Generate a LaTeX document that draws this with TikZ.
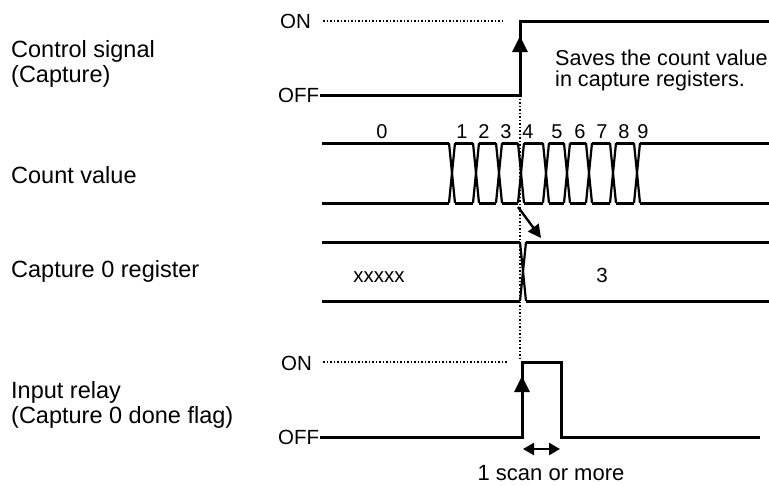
\documentclass[tikz,border=0pt]{standalone}
\usepackage{fontspec}
\setmainfont{Liberation Sans}
\usetikzlibrary{arrows.meta}
\begin{document}
\begin{tikzpicture}[x=1pt,y=-1pt,
  wave/.style={line width=3pt, line join=miter},
  xing/.style={line width=2.2pt},
  dots/.style={line width=1.7pt, dash pattern=on 1.5pt off 2pt},
  lbl/.style={font=\fontsize{23.5}{27}\selectfont, inner sep=0pt, anchor=base west},
  lvl/.style={font=\fontsize{20.5}{24}\selectfont, inner sep=0pt, anchor=base west},
  num/.style={font=\fontsize{20}{24}\selectfont, inner sep=0pt, anchor=base},
  reg/.style={font=\fontsize{20.5}{24}\selectfont, inner sep=0pt, anchor=base},
  note/.style={font=\fontsize{21.6}{25}\selectfont, inner sep=0pt, anchor=base west},
  arr/.style={line width=3pt, -{Triangle[length=16pt,width=15pt]}},
  smallarr/.style={line width=2.4pt, -{Triangle[length=13pt,width=13pt]}},
  dblarr/.style={line width=2.4pt, {Triangle[length=11pt,width=12pt]}-{Triangle[length=11pt,width=12pt]}}
]
\useasboundingbox (0,0) rectangle (769,485);

% left labels
\node[lbl] (l1a) at (11,57) {Control signal};
\node[lbl] (l1b) at (11,82) {(Capture)};
\node[lbl] (l2) at (11,183) {Count value};
\node[lbl] (l3) at (11,277) {Capture 0 register};
\node[lbl] (l4a) at (11,398) {Input relay};
\node[lbl] (l4b) at (11,423) {(Capture 0 done flag)};

% control signal
\node[lvl] (on1) at (280,28) {ON};
\node[lvl] (off1) at (278,102) {OFF};
\coordinate (c0) at (320,95);
\coordinate (c1) at (520,95);
\coordinate (c2) at (520,21);
\coordinate (c3) at (769,21);
\coordinate (d1a) at (323,21);
\coordinate (d1b) at (503,21);
\draw[dots] (d1a) -- (d1b);
\draw[wave] (c0) -- (c1) -- (c2) -- (c3);
\coordinate (a1) at (520,36);
\draw[arr] (c1) -- (a1);
\node[note] (n1) at (555,65) {Saves the count value};
\node[note] (n2) at (555,86) {in capture registers.};

% vertical dotted guide
\coordinate (g2) at (520,358);
\draw[dots] (c1) -- (g2);

% count value bus
\def\ct{143}\def\cb{203}\def\hw{3}
\draw[wave] (322,\ct) -- (452-\hw,\ct);
\draw[wave] (322,\cb) -- (452-\hw,\cb);
\foreach \a/\b in {452/476,476/499,499/521,521/546,546/567,567/589,589/613,613/637}{
  \draw[wave] (\a+\hw,\ct) -- (\b-\hw,\ct);
  \draw[wave] (\a+\hw,\cb) -- (\b-\hw,\cb);
}
\draw[wave] (637+\hw,\ct) -- (769,\ct);
\draw[wave] (637+\hw,\cb) -- (769,\cb);
\foreach \c in {452,476,499,521,546,567,589,613,637}{
  \draw[xing] (\c-\hw,\ct) -- (\c+\hw,\cb);
  \draw[xing] (\c+\hw,\ct) -- (\c-\hw,\cb);
}
\foreach \x/\t in {382/0,462/1,484/2,506/3,528/4,557/5,580/6,602/7,624/8,643/9}{
  \node[num] (k\t) at (\x,138) {\t};
}
\coordinate (da) at (518,207);
\coordinate (db) at (541,238);
\draw[smallarr] (da) -- (db);

% capture register
\def\rt{242}\def\rb{301}
\draw[wave] (322,\rt) -- (520,\rt);
\draw[wave] (322,\rb) -- (520,\rb);
\draw[wave] (526,\rt) -- (769,\rt);
\draw[wave] (526,\rb) -- (769,\rb);
\draw[xing] (520,\rt) -- (526,\rb);
\draw[xing] (526,\rt) -- (520,\rb);
\node[reg] (rx) at (379,282) {xxxxx};
\node[reg] (r3) at (602,282) {3};

% input relay
\node[lvl] (on2) at (281,370) {ON};
\node[lvl] (off2) at (278,444) {OFF};
\coordinate (d2a) at (323,362);
\coordinate (d2b) at (507,362);
\draw[dots] (d2a) -- (d2b);
\coordinate (p0) at (320,437);
\coordinate (p1) at (522,437);
\coordinate (p2) at (522,362);
\coordinate (p3) at (561,362);
\coordinate (p4) at (561,437);
\coordinate (p5) at (760,437);
\draw[wave] (p0) -- (p1) -- (p2) -- (p3) -- (p4) -- (p5);
\coordinate (a2) at (522,376);
\draw[arr] (p1) -- (a2);
\coordinate (s1) at (523,449);
\coordinate (s2) at (560,449);
\draw[dblarr] (s1) -- (s2);
\node[font=\fontsize{22}{26}\selectfont, inner sep=0pt, anchor=base] (scan) at (551,480) {1 scan or more};
\end{tikzpicture}
\end{document}
